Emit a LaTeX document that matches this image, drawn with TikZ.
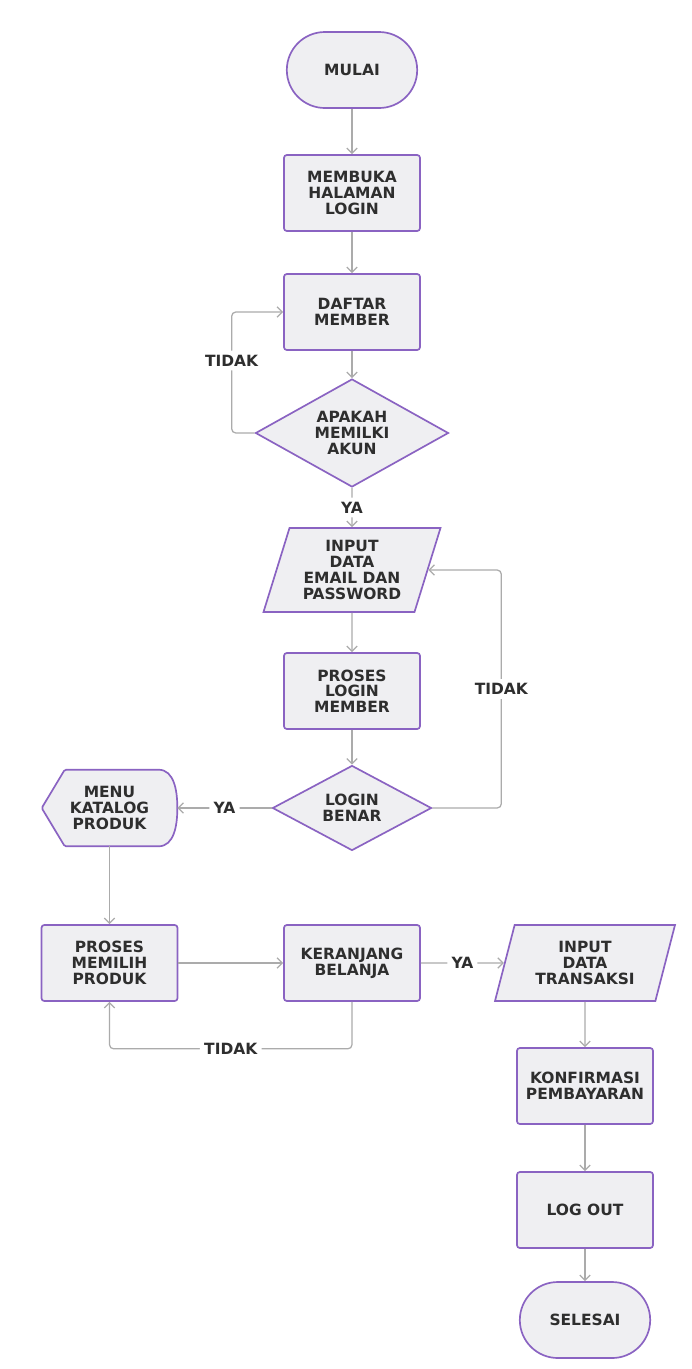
\documentclass[tikz,border=0pt]{standalone}
\usepackage{fontspec}
\setmainfont{DejaVu Sans}
\usepackage{xcolor}
\usetikzlibrary{shapes.geometric,shapes.misc,arrows.meta,backgrounds,calc}
\definecolor{flowline}{HTML}{8A63C2}
\definecolor{flowfill}{HTML}{EFEFF2}
\definecolor{arrgray}{HTML}{ABABAB}
\definecolor{textdark}{HTML}{2E2E2E}

\begin{document}
\begin{tikzpicture}[
  base/.style={draw=flowline,fill=flowfill,line width=1.2pt,align=center,
               font=\fontsize{11}{11.2}\selectfont\bfseries\color{textdark},inner sep=2pt},
  term/.style={base,rounded rectangle,minimum width=3.4cm,minimum height=1.9cm},
  proc/.style={base,rectangle,rounded corners=2pt,minimum width=3.4cm,minimum height=1.9cm},
  dec/.style={base,diamond,aspect=1.8,inner sep=0pt},
  io/.style={base,trapezium,trapezium left angle=68,trapezium right angle=112,
             trapezium stretches body,minimum height=1.9cm},
  disp/.style={align=center,font=\fontsize{11}{11.2}\selectfont\bfseries\color{textdark},
               minimum width=3.375cm,minimum height=1.9cm,inner sep=0pt},
  displine/.style={draw=flowline,fill=flowfill,line width=1.2pt,rounded corners=1pt},
  lbl/.style={fill=white,font=\fontsize{11}{11.2}\selectfont\bfseries\color{textdark},inner sep=3pt},
  arr/.style={draw=arrgray,line width=0.9pt,rounded corners=3pt,
              -{Straight Barb[length=1.3mm,width=2.6mm]}}
]
\useasboundingbox (0,0) rectangle (17.3,-34.225);

% ---- MAIN COLUMN (login) ----
\node[term] (mulai)  at (8.8,-1.75)   {MULAI};
\node[proc] (buka)   at (8.8,-4.825)  {MEMBUKA\\HALAMAN\\LOGIN};
\node[proc] (daftar) at (8.8,-7.8)    {DAFTAR\\MEMBER};
\node[dec,minimum width=4.825cm,minimum height=2.7cm] (punya) at (8.8,-10.825)
  {APAKAH\\MEMILKI\\AKUN};
\node[io,minimum width=4.425cm,minimum height=2.1cm] (email) at (8.8,-14.25)
  {INPUT\\DATA\\EMAIL DAN\\PASSWORD};
\node[proc] (login)  at (8.8,-17.275) {PROSES\\LOGIN\\MEMBER};
\node[dec,minimum width=3.975cm,minimum height=2.125cm] (benar) at (8.8,-20.2)
  {LOGIN\\BENAR};

% ---- SHOPPING ROW ----
\node[disp] (menu) at (2.7375,-20.2) {MENU\\KATALOG\\PRODUK};
\begin{scope}[on background layer]
  \draw[displine] (menu.west) -- ([xshift=0.575cm]menu.north west)
    -- ([xshift=-0.5cm]menu.north east) to[out=0,in=90] (menu.east)
    to[out=-90,in=0] ([xshift=-0.5cm]menu.south east)
    -- ([xshift=0.575cm]menu.south west) -- cycle;
\end{scope}
\node[proc] (memilih)   at (2.7375,-24.075) {PROSES\\MEMILIH\\PRODUK};
\node[proc] (keranjang) at (8.8,-24.075)    {KERANJANG\\BELANJA};
\node[io,minimum width=4.5cm] (transaksi) at (14.625,-24.075) {INPUT\\DATA\\TRANSAKSI};

% ---- CHECKOUT COLUMN ----
\node[proc] (konfirmasi) at (14.625,-27.15) {KONFIRMASI\\PEMBAYARAN};
\node[proc] (logout)     at (14.625,-30.25) {LOG OUT};
\node[term] (selesai)    at (14.625,-33.0)  {SELESAI};

% ---- CONNECTIONS ----
\foreach \a/\b in {mulai/buka,buka/daftar,daftar/punya,email/login,login/benar,
                   menu/memilih,transaksi/konfirmasi,konfirmasi/logout,logout/selesai}
  \draw[arr] (\a.south) -- (\b.north);

\draw[arr] (punya.south) -- node[lbl]{YA} (email.north);
\draw[arr] (punya.west) -- ++(-0.575,0) |- node[lbl,pos=0.3]{TIDAK} (daftar.west);
\draw[arr] (benar.east) -- ++(1.725,0) |- node[lbl,pos=0.25]{TIDAK} (email.east);
\draw[arr] (benar.west) -- node[lbl]{YA} (benar.west -| menu.east);
\draw[arr] (memilih.east) -- (keranjang.west);
\draw[arr] (keranjang.south) -- ++(0,-1.175) -| node[lbl,pos=0.25]{TIDAK} (memilih.south);
\draw[arr] (keranjang.east) -- node[lbl]{YA} (transaksi.west);

\end{tikzpicture}
\end{document}
